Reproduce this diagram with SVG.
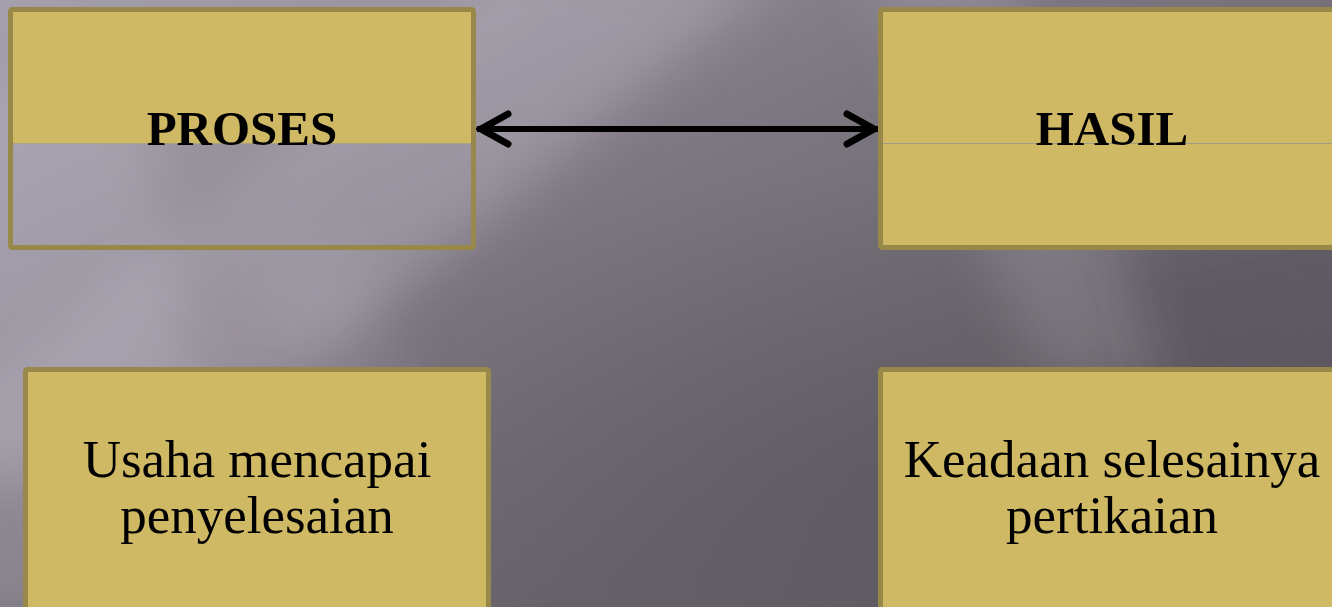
<svg xmlns="http://www.w3.org/2000/svg" width="1332" height="607" viewBox="0 0 1332 607">
  <style>
    .box { fill: #cfb964; stroke: #988849; stroke-width: 5; }
    .frame { fill: none; stroke: #988849; stroke-width: 5; }
    .half { fill: #cfb964; }
    .seam { stroke: #a09c86; stroke-width: 1; }
    .title { font-family: "Liberation Serif", "Times New Roman", serif; font-weight: bold; font-size: 49px; fill: #000; text-anchor: middle; }
    .body { font-family: "Liberation Serif", "Times New Roman", serif; font-size: 53px; fill: #000; text-anchor: middle; }
    .link { fill: none; stroke: #000; stroke-width: 6; }
  </style>
  <defs>
    <linearGradient id="bg" x1="0" y1="0" x2="1" y2="1">
      <stop offset="0" stop-color="#9f99a6"/>
      <stop offset="0.4" stop-color="#7c7680"/>
      <stop offset="0.7" stop-color="#6a656c"/>
      <stop offset="1" stop-color="#5f5a61"/>
    </linearGradient>
    <radialGradient id="shade" cx="0.75" cy="0.8" r="0.55">
      <stop offset="0" stop-color="#4f4a52" stop-opacity="0.35"/>
      <stop offset="1" stop-color="#4f4a52" stop-opacity="0"/>
    </radialGradient>
    <filter id="soft" filterUnits="userSpaceOnUse" x="-300" y="-300" width="1932" height="1207">
      <feGaussianBlur stdDeviation="26"/>
    </filter>
    <marker id="chev" markerUnits="userSpaceOnUse" viewBox="-40 -20 44 40" markerWidth="44" markerHeight="40" refX="0" refY="0" orient="auto-start-reverse">
      <path d="M-31,-15 L-4,0 L-31,15" fill="none" stroke="#000" stroke-width="7" stroke-linecap="round"/>
    </marker>
  </defs>

  <!-- backdrop with soft light rays -->
  <g id="backdrop">
    <rect width="1332" height="607" fill="url(#bg)"/>
    <rect width="1332" height="607" fill="url(#shade)"/>
    <g filter="url(#soft)" fill="#d8d2e0">
      <polygon points="-80,-40 560,-40 -80,470" opacity="0.12"/>
      <polygon points="520,-40 790,-40 180,480 -120,480" opacity="0.28"/>
      <polygon points="-60,90 150,90 220,620 -60,620" opacity="0.2"/>
      <polygon points="860,-40 1000,-40 1180,380 1040,380" opacity="0.16"/>
      <polygon points="250,250 360,250 470,520 360,520" opacity="0.1"/>
    </g>
    <g filter="url(#soft)" fill="#4f4a52">
      <polygon points="1120,260 1400,200 1400,620 1220,620" opacity="0.3"/>
    </g>
  </g>

  <!-- connectors -->
  <g id="connectors">
    <line class="link" x1="477" y1="129" x2="878" y2="129" marker-start="url(#chev)" marker-end="url(#chev)"/>
  </g>

  <g id="node-proses">
    <rect class="half" x="10.5" y="9.5" width="463" height="134"/>
    <line class="seam" x1="10" y1="143.5" x2="474" y2="143.5" opacity="0.5"/>
    <rect class="frame" x="10.5" y="9.5" width="463" height="238" rx="2"/>
    <text class="title" x="242" y="145">PROSES</text>
  </g>

  <g id="node-hasil">
    <rect class="box" x="880.5" y="9.5" width="463" height="238" rx="2"/>
    <line class="seam" x1="883" y1="143.5" x2="1332" y2="143.5"/>
    <text class="title" x="1112" y="145">HASIL</text>
  </g>

  <g id="node-usaha">
    <rect class="box" x="25.5" y="369.5" width="463" height="250" rx="2"/>
    <text class="body" x="257" y="477">Usaha mencapai</text>
    <text class="body" x="257" y="533">penyelesaian</text>
  </g>

  <g id="node-keadaan">
    <rect class="box" x="880.5" y="369.5" width="463" height="250" rx="2"/>
    <text class="body" x="1112" y="477">Keadaan selesainya</text>
    <text class="body" x="1112" y="533">pertikaian</text>
  </g>
</svg>
